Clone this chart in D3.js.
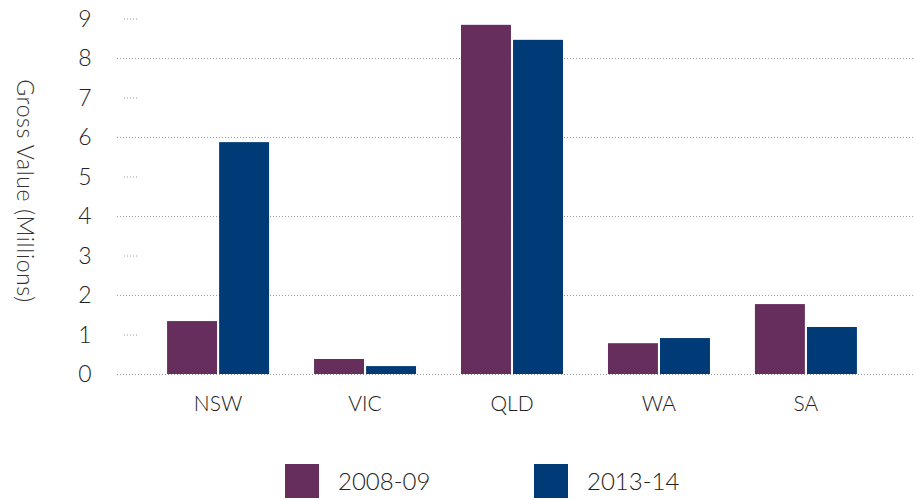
<!DOCTYPE html>
<html>
<head>
<meta charset="utf-8">
<script src="https://cdn.jsdelivr.net/npm/d3@7"></script>
<style>
  body { margin:0; background:#fff; }
  svg { display:block; font-family: Lato, "DejaVu Sans", sans-serif; font-weight:300; }
</style>
</head>
<body>
<svg width="914" height="500"></svg>
<script>
// data
const states = ["NSW","VIC","QLD","WA","SA"];
const series = ["2008-09","2013-14"];
const v0809 = [1.34, 0.38, 8.84, 0.78, 1.77];
const v1314 = [5.87, 0.20, 8.46, 0.91, 1.19];
const yTicks = [0,1,2,3,4,5,6,7,8,9];

const C = { "2008-09":"#652e5c", "2013-14":"#003a77" };

const svg = d3.select("svg");

const x0 = d3.scaleBand().domain(states).range([144.6, 879.4]).paddingInner(0.306).paddingOuter(0.153);
const x1 = d3.scaleBand().domain(series).range([0, x0.bandwidth()]).paddingInner(0.04);
const y = d3.scaleLinear().domain([0, 9]).range([374, 18.5]);

// gridlines: full dotted on even, short stubs on odd
const grid = svg.append("g");
yTicks.forEach(t=>{
  const major = t % 2 === 0;
  grid.append("line")
    .attr("x1", major ? 117 : 124).attr("x2", major ? 914 : 139)
    .attr("y1", y(t)+0.5).attr("y2", y(t)+0.5)
    .attr("stroke","#9a9a9a").attr("stroke-width",1)
    .attr("stroke-dasharray","1,2");
});

// y tick labels
svg.append("g").selectAll("text").data(yTicks).join("text")
  .attr("x", 85).attr("y", d=>y(d)+8)
  .attr("text-anchor","middle").attr("font-size",23).attr("fill","#222")
  .text(d=>d);

// y title
svg.append("text")
  .attr("transform","translate(17,191) rotate(90)")
  .attr("text-anchor","middle").attr("font-size",23).attr("fill","#333")
  .attr("letter-spacing","0.6px")
  .text("Gross Value (Millions)");

// bars
const rows = states.map((s,i)=>({state:s, vals:[
  {key:"2008-09", v:v0809[i]}, {key:"2013-14", v:v1314[i]}]}));
const groups = svg.append("g").selectAll("g").data(rows).join("g")
  .attr("transform", d=>`translate(${x0(d.state)},0)`);
groups.selectAll("rect").data(d=>d.vals).join("rect")
  .attr("x", d=>x1(d.key)).attr("width", x1.bandwidth())
  .attr("y", d=>y(d.v)).attr("height", d=>y(0)-y(d.v))
  .attr("fill", d=>C[d.key]);

// x labels
svg.append("g").selectAll("text").data(states).join("text")
  .attr("x", d=>x0(d)+x0.bandwidth()/2).attr("y", 411)
  .attr("text-anchor","middle").attr("font-size",21).attr("fill","#222")
  .text(d=>d);

// legend
const legX = [285, 534];
const leg = svg.append("g").selectAll("g").data(series).join("g")
  .attr("transform", (d,i)=>`translate(${legX[i]},464)`);
leg.append("rect").attr("width",34).attr("height",34).attr("fill", d=>C[d]);
leg.append("text").attr("x",53).attr("y",26).attr("font-size",24).attr("fill","#222").text(d=>d);
</script>
</body>
</html>
